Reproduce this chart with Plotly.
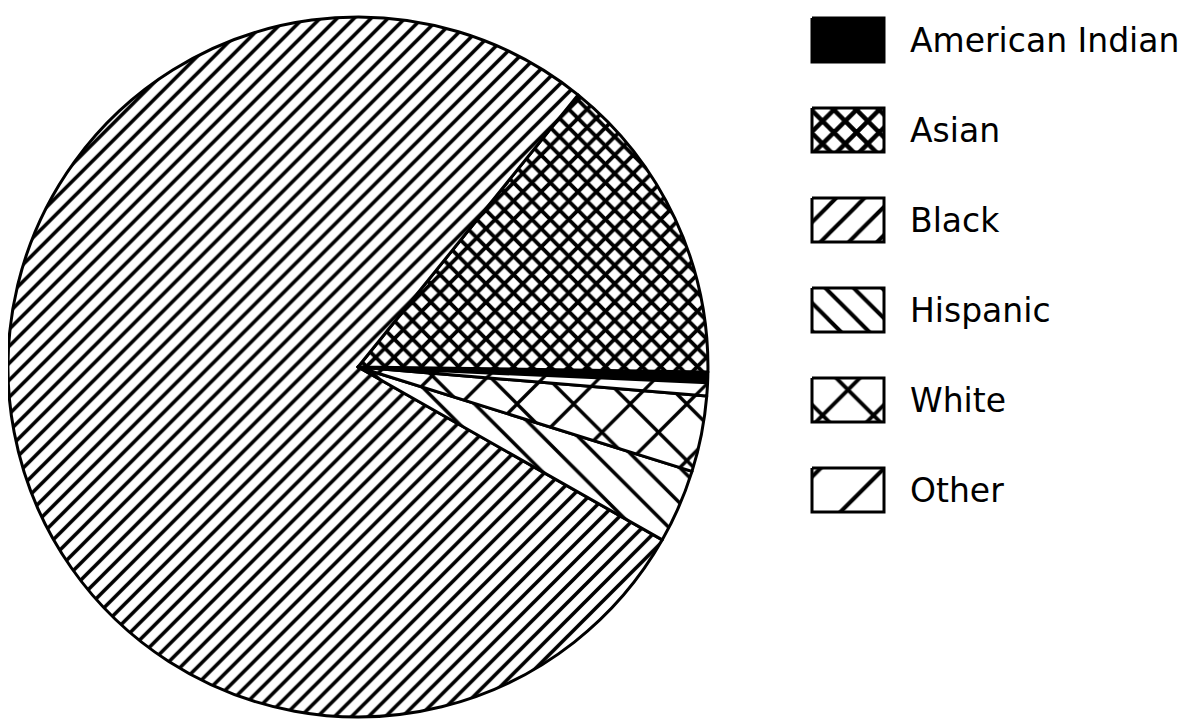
import plotly.graph_objects as go

# share of enrollment by group (percent)
groups = ["American Indian", "Asian", "Black", "Hispanic", "White", "Other"]
shares = [0.5, 14.4, 77.6, 3.4, 3.5, 0.6]

fills = ["black", "white", "white", "white", "white", "white"]
shapes = ["", "x", "/", "\\", "x", "/"]
pie_sizes = [10, 13, 12, 25, 40, 40]
pie_solid = [0.2, 0.5, 0.3, 0.14, 0.16, 0.08]
key_sizes = [10, 16, 20, 20, 36, 45]
key_solid = [0.2, 0.48, 0.2, 0.2, 0.2, 0.09]

W, H = 1191, 727
PAD = 8  # browser body margin shifts the whole figure by this much

fig = go.Figure()

fig.add_trace(go.Pie(
    labels=groups,
    values=shares,
    sort=False,
    direction="counterclockwise",
    rotation=90.8,
    textinfo="none",
    hoverinfo="label+percent",
    showlegend=False,
    marker=dict(
        colors=fills,
        line=dict(color="black", width=3),
        pattern=dict(shape=shapes, size=pie_sizes, solidity=pie_solid,
                     fgcolor="black", fgopacity=1, fillmode="replace"),
    ),
    domain=dict(x=[0.0, 0.5877], y=[0.0248, 0.9876]),
))

# hand-drawn legend keys (big hatched boxes like the original)
for i, name in enumerate(groups):
    top = 18 + i * 90 - PAD
    left = 812 - PAD
    fig.add_trace(go.Scatter(
        x=[left, left + 72, left + 72, left, left],
        y=[top, top, top + 44, top + 44, top],
        mode="lines",
        fill="toself",
        fillcolor=fills[i],
        fillpattern=dict(shape=shapes[i], size=key_sizes[i], solidity=key_solid[i],
                         fgcolor="black", fgopacity=1, bgcolor=fills[i]),
        line=dict(color="black", width=3),
        xaxis="x", yaxis="y",
        hoverinfo="skip",
        showlegend=False,
    ))
    fig.add_annotation(
        x=908 - PAD, y=top + 22, xref="x", yref="y",
        text=name, showarrow=False,
        xanchor="left", yanchor="middle",
        font=dict(family="DejaVu Sans", size=33, color="black"),
    )

fig.update_layout(
    width=W, height=H,
    margin=dict(l=0, r=0, t=0, b=0),
    paper_bgcolor="white",
    plot_bgcolor="rgba(0,0,0,0)",
    xaxis=dict(range=[0, W], visible=False, fixedrange=True),
    yaxis=dict(range=[H, 0], visible=False, fixedrange=True),
)

fig.write_html("out.html")
